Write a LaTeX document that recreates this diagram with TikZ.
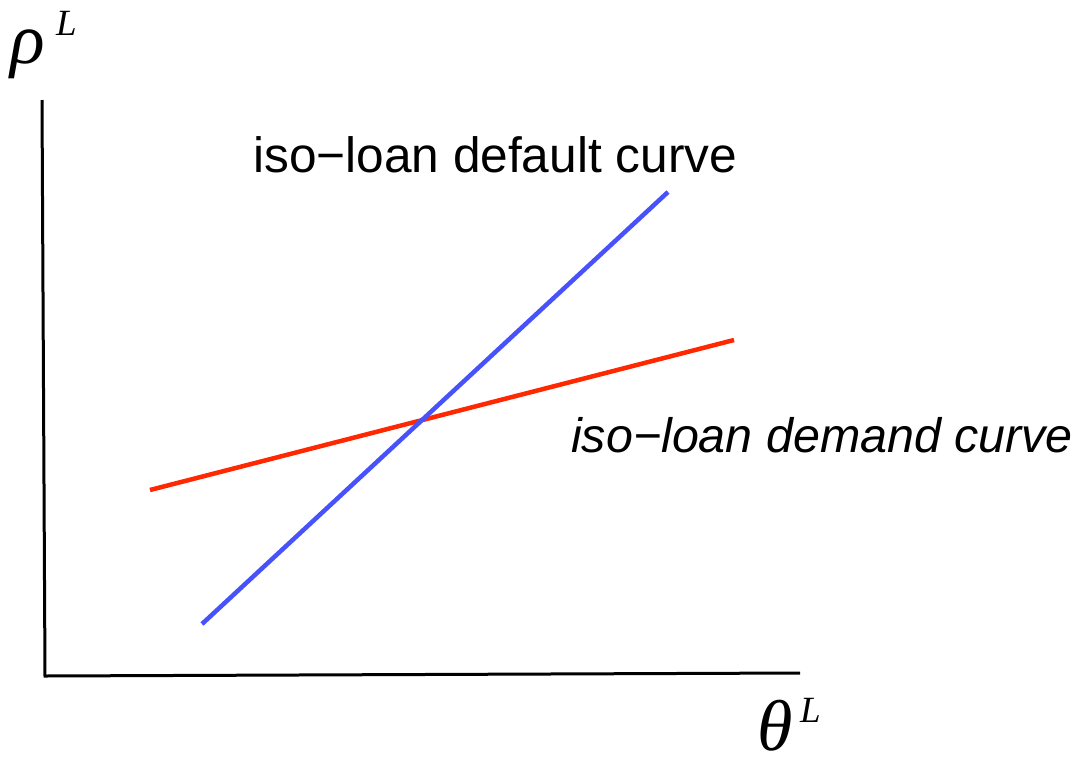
\documentclass[tikz,border=0pt]{standalone}
\usepackage{fontspec}
\setmainfont{Liberation Sans}
\newfontfamily\tms{Liberation Serif}
\definecolor{isoblue}{RGB}{72,82,250}
\definecolor{isored}{RGB}{255,40,0}
\begin{document}
\begin{tikzpicture}[x=1pt,y=-1pt,
  axis/.style={line width=3pt,black},
  curveline/.style={line width=4.5pt},
  lbl/.style={anchor=base west,inner sep=0pt,font=\fontsize{49.6}{60}\selectfont},
  ilbl/.style={anchor=base west,inner sep=0pt,font=\fontsize{48.4}{60}\selectfont\itshape},
  greek/.style={anchor=base west,inner sep=0pt,font=\fontsize{72}{80}\selectfont\tms\itshape},
  sup/.style={anchor=base west,inner sep=0pt,font=\fontsize{37}{40}\selectfont\tms\itshape}]
\useasboundingbox (0,0) rectangle (1087,758);
% axes
\coordinate (ytop) at (42,100);
\coordinate (orig) at (45,676);
\coordinate (xend) at (800,673);
\draw[axis] (ytop) -- (orig) -- (xend);
% curves
\coordinate (b1) at (202,624);
\coordinate (b2) at (668,192);
\coordinate (r1) at (150,490);
\coordinate (r2) at (734,340);
\draw[curveline,isored] (r1) -- (r2);
\draw[curveline,isoblue] (b1) -- (b2);
% labels
\node[lbl] (deflbl) at (253,172) {iso−loan default curve};
\node[ilbl] (demlbl) at (571,452) {iso−loan demand curve};
\node[greek] (rho) at (10,63) {ρ};
\node[sup] (rhoL) at (56,35) {L};
\node[greek,text depth=0pt] (theta) at (757,750) {θ};
\node[sup] (thetaL) at (800,722) {L};
\end{tikzpicture}
\end{document}
